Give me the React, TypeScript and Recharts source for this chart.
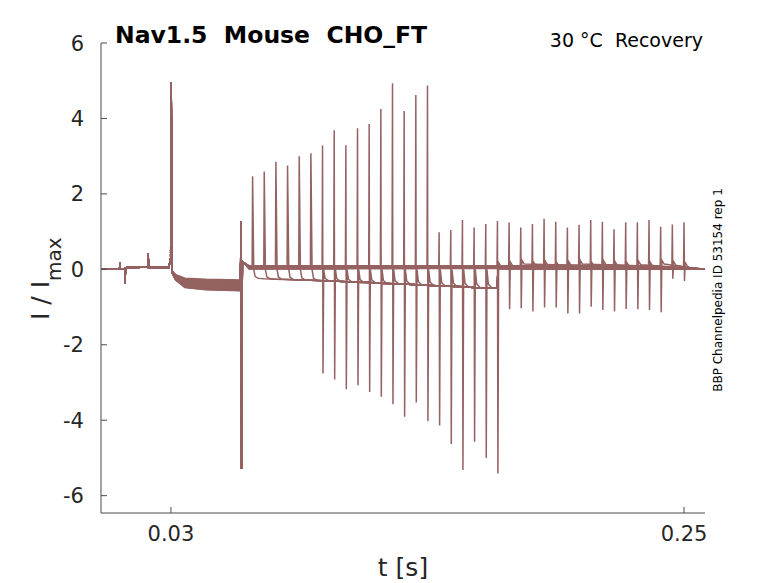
import { LineChart, Line, XAxis, YAxis } from 'recharts';

// onset of the second (recovery) pulse in every sweep, s
const spikeTimes = [
  0.065, 0.07, 0.075, 0.08, 0.085, 0.09, 0.095, 0.1, 0.105, 0.11, 0.115, 0.12, 0.125,
  0.13, 0.135, 0.14, 0.145, 0.15, 0.155, 0.16, 0.165, 0.17, 0.175, 0.18, 0.185, 0.19,
  0.195, 0.2, 0.205, 0.21, 0.215, 0.22, 0.225, 0.23, 0.235, 0.24, 0.245, 0.25,
];
// positive transient at the pulse onset, I/Imax
const spikeTops = [
  2.47, 2.59, 2.85, 2.75, 3.0, 3.08, 3.28, 3.69, 3.29, 3.74, 3.85, 4.25, 4.93, 4.2,
  4.62, 4.87, 0.98, 1.04, 1.31, 1.11, 1.2, 1.28, 1.24, 1.11, 1.2, 1.34, 1.26, 1.11,
  1.18, 1.31, 1.26, 1.06, 1.25, 1.25, 1.31, 1.13, 1.19, 1.25,
];
// peak inward current after the onset (null = none visible)
const spikeBottoms: (number | null)[] = [
  null, null, null, null, null, null, -2.76, -2.92, -3.18, -3.07, -3.25, -3.38, -3.58,
  -3.91, -3.53, -4.03, -4.14, -4.63, -5.32, -4.57, -5.0, -5.41, -1.06, -1.03, -1.12,
  -1.01, -1.01, -1.17, -1.17, -0.99, -1.08, -1.12, -1.05, -1.06, -1.08, -1.14, -0.25, -0.31,
];
// level held during the first pulse, per sweep
const pulse1Levels = [
  -0.42, -0.38, -0.47, -0.51, -0.35, -0.44, -0.55, -0.4, -0.48, -0.31, -0.53, -0.45,
  -0.37, -0.5, -0.43, -0.57, -0.33, -0.46, -0.52, -0.39, -0.49, -0.28, -0.54, -0.41,
  -0.36, -0.47, -0.44, -0.5, -0.34, -0.56, -0.42, -0.48, -0.3, -0.45, -0.51, -0.39,
  -0.46, -0.43,
];
// holding level between pulses, per sweep
const baseLevels = [
  0.03, 0.02, 0.05, 0.04, 0.06, 0.02, 0.04, 0.07, 0.01, 0.05, 0.03, 0.05, 0.08, 0.04,
  0.02, 0.06, 0.04, 0.07, 0.03, 0.05, 0.06, 0.03, 0.05, 0.09, 0.04, 0.07, 0.02, 0.06,
  0.09, 0.03, 0.08, 0.05, 0.03, 0.07, 0.04, 0.09, 0.06, 0.03,
];
// level of the long second pulse, read at each onset time (ends at 0.17 s)
const lowerLevels = [
  -0.24, -0.25, -0.26, -0.27, -0.28, -0.29, -0.3, -0.31, -0.33, -0.34, -0.35, -0.37,
  -0.38, -0.39, -0.41, -0.42, -0.44, -0.45, -0.46, -0.48, -0.49, -0.5,
];
// common part before the first pulse
const preTimes = [0, 0.008, 0.0081, 0.0083, 0.0102, 0.0103, 0.0105, 0.0201, 0.0202, 0.0204, 0.029, 0.0296, 0.0299, 0.0301];
const preValues = [0, 0.02, 0.17, 0.01, 0.0, -0.37, 0.04, 0.06, 0.43, 0.05, 0.05, 0.2, 0.3, 4.95];
// relaxation into the first pulse level (fraction of that level)
const p1Times = [0.0304, 0.032, 0.036, 0.045, 0.0598];
const p1Shape = [0.15, 0.5, 0.85, 0.95, 1.0];
// transient when the first pulse ends
const offTimes = [0.0601, 0.0603, 0.0606, 0.0612];
const offValues = [1.27, -5.29, 0.2, 0.18];

const P2_END = 0.1702;
const T_END = 0.259;
const TRACE = '#956262';
const AXIS = '#4a4a4a';
const TEXT = '#262626';
const FONT = '"DejaVu Sans", sans-serif';

type Pt = { t: number; v: number };

function buildSweep(k: number): Pt[] {
  const pts: Pt[] = preTimes.map((t, i) => ({ t, v: preValues[i] }));
  p1Times.forEach((t, i) => pts.push({ t, v: pulse1Levels[k] * p1Shape[i] }));
  offTimes.forEach((t, i) => pts.push({ t, v: offValues[i] }));
  const base = baseLevels[k];
  const tk = spikeTimes[k];
  pts.push({ t: 0.0635, v: base });
  pts.push({ t: tk - 0.0002, v: base });
  pts.push({ t: tk, v: spikeTops[k] });
  const bottom = spikeBottoms[k];
  if (bottom !== null) pts.push({ t: tk + 0.0002, v: bottom });
  if (tk < P2_END - 0.003) {
    const lv = lowerLevels[k];
    pts.push({ t: tk + 0.0005, v: 0 });
    pts.push({ t: tk + 0.0011, v: lv * 0.8 });
    pts.push({ t: tk + 0.0025, v: lv });
    for (let j = k + 1; j < lowerLevels.length; j++) {
      pts.push({ t: spikeTimes[j], v: lowerLevels[j] });
    }
    pts.push({ t: P2_END, v: base });
  } else {
    pts.push({ t: tk + 0.0005, v: base + 0.15 });
    pts.push({ t: tk + 0.0015, v: base + 0.05 });
  }
  pts.push({ t: 0.2535, v: base * 0.4 });
  pts.push({ t: T_END, v: 0 });
  return pts;
}

const sweeps = spikeTimes.map((_, k) => buildSweep(k));

const YTick = ({ x, y, payload }: any) => (
  <g>
    <line x1={x} x2={x + 6} y1={y} y2={y} stroke={AXIS} strokeWidth={1} />
    <text x={x - 17} y={y} dy="0.36em" textAnchor="end" fontSize={21} fontFamily={FONT} fill={TEXT}>
      {payload.value}
    </text>
  </g>
);

const XTick = ({ x, y, payload }: any) => (
  <g>
    <line x1={x} x2={x} y1={y} y2={y - 6} stroke={AXIS} strokeWidth={1} />
    <text x={x} y={y + 28} textAnchor="middle" fontSize={21} fontFamily={FONT} fill={TEXT}>
      {payload.value}
    </text>
  </g>
);

export default function App() {
  return (
    <div style={{ position: 'absolute', left: 0, top: 0, width: 778, height: 583, background: '#fff' }}>
      <LineChart width={778} height={583} margin={{ top: 43, right: 73, bottom: 0, left: 0 }}>
        <XAxis
          type="number"
          dataKey="t"
          domain={[0, T_END]}
          ticks={[0.03, 0.25]}
          allowDataOverflow
          height={70}
          tickSize={0}
          tickMargin={0}
          tickLine={false}
          axisLine={{ stroke: AXIS, strokeWidth: 1 }}
          tick={<XTick />}
        />
        <YAxis
          type="number"
          domain={[-6.46, 6]}
          ticks={[-6, -4, -2, 0, 2, 4, 6]}
          allowDataOverflow
          width={101}
          tickSize={0}
          tickMargin={0}
          tickLine={false}
          axisLine={{ stroke: AXIS, strokeWidth: 1 }}
          tick={<YTick />}
        />
        {sweeps.map((d, k) => (
          <Line
            key={k}
            data={d}
            dataKey="v"
            type="linear"
            stroke={TRACE}
            strokeWidth={1.5}
            dot={false}
            activeDot={false}
            isAnimationActive={false}
          />
        ))}
      </LineChart>
      <svg width={778} height={583} style={{ position: 'absolute', left: 0, top: 0, pointerEvents: 'none' }}>
        <text x={115} y={42.5} fontSize={23.5} fontWeight="bold" fontFamily={FONT} fill="#000">
          Nav1.5{'\u00a0\u00a0'}Mouse{'\u00a0\u00a0'}CHO_FT
        </text>
        <text x={703} y={47} textAnchor="end" fontSize={19} fontFamily={FONT} fill="#000">
          30 °C{'\u00a0\u00a0'}Recovery
        </text>
        <text x={403} y={576} textAnchor="middle" fontSize={25} fontFamily={FONT} fill={TEXT}>
          t [s]
        </text>
        <text transform="rotate(-90)" x={-320} y={48.5} fontSize={25} fontFamily={FONT} fill={TEXT}>
          I / I
          <tspan dy={12} fontSize={20}>max</tspan>
        </text>
        <text transform="rotate(-90)" x={-290} y={722} textAnchor="middle" fontSize={12} fontFamily={FONT} fill="#000">
          BBP Channelpedia ID 53154 rep 1
        </text>
      </svg>
    </div>
  );
}
